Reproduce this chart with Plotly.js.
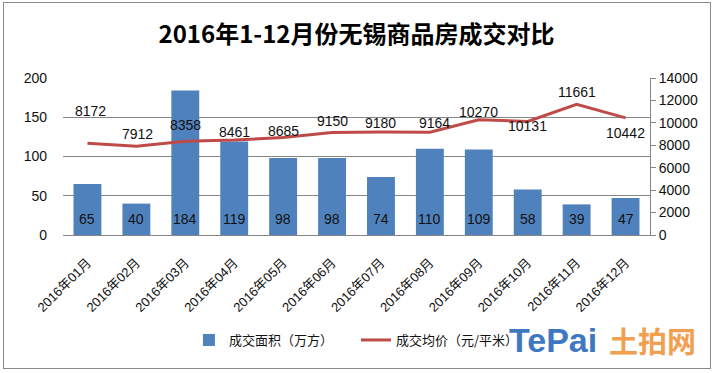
<!DOCTYPE html>
<html>
<head>
<meta charset="utf-8">
<script src="https://cdn.plot.ly/plotly-3.0.1.min.js"></script>
<style>
html,body{margin:0;padding:0;background:#fff;}
#chart{width:713px;height:373px;}
#frame{position:absolute;left:3px;top:2px;width:706px;height:365px;border:1.5px solid #8a8a8a;pointer-events:none;}
</style>
</head>
<body>
<div id="chart"></div>
<div id="frame"></div>
<script>
var categories = ["2016年01月","2016年02月","2016年03月","2016年04月","2016年05月","2016年06月",
                  "2016年07月","2016年08月","2016年09月","2016年10月","2016年11月","2016年12月"];
var areaValues = [65, 40, 184, 119, 98, 98, 74, 110, 109, 58, 39, 47];
var priceValues = [8172, 7912, 8358, 8461, 8685, 9150, 9180, 9164, 10270, 10131, 11661, 10442];
var leftTicks = [0, 50, 100, 150, 200];
var rightTicks = [0, 2000, 4000, 6000, 8000, 10000, 12000, 14000];
var rightTickText = ["0", "2000", "4000", "6000", "8000", "10000", "12000", "14000"];
// label placement offsets (pixels) for the price labels, as in the picture
var priceLabelShift = [32, 12, 16, 8, 7, 11, 9, 9, 8, -5, 12, -15];
var priceLabelXShift = [3, 1, 0, 0, 0, 0, 0, 5, 0, 0, 0, 0];

var font = "Liberation Sans, Noto Sans CJK SC, sans-serif";
var cjk = "Noto Sans CJK SC, sans-serif";

var traces = [
  {type:"bar", x:categories, y:areaValues, name:"成交面积（万方）",
   marker:{color:"#4F81BD"}, yaxis:"y", hoverinfo:"none"},
  {type:"scatter", mode:"lines", x:categories, y:priceValues, name:"成交均价（元/平米）",
   line:{color:"#BE4B48", width:3}, yaxis:"y2", hoverinfo:"none"}
];

var annotations = [];
categories.forEach(function(c, i){
  annotations.push({x:c, y:0, xref:"x", yref:"y", text:String(areaValues[i]), showarrow:false,
    yshift:16, font:{family:font, size:14, color:"#111"}});
  annotations.push({x:c, y:priceValues[i], xref:"x", yref:"y2", text:String(priceValues[i]), showarrow:false,
    yshift:priceLabelShift[i], xshift:priceLabelXShift[i], font:{family:font, size:14, color:"#111"}});
});
annotations.push({x:0.835, y:-0.669, xref:"paper", yref:"paper", xanchor:"center", yanchor:"middle",
  text:"<b>TePai</b>", showarrow:false,
  font:{family:"Liberation Sans, sans-serif", size:34, color:"#3F78C0"}});
annotations.push({x:1.005, y:-0.669, xref:"paper", yref:"paper", xanchor:"center", yanchor:"middle",
  text:"<b>土拍网</b>", showarrow:false,
  font:{family:cjk, size:29, color:"#F0A050"}});

var layout = {
  width:713, height:373,
  margin:{l:63, r:63, t:78, b:138},
  paper_bgcolor:"#fff", plot_bgcolor:"#fff",
  title:{text:"<b>2016年1-12月份无锡商品房成交对比</b>", font:{family:cjk, size:24, color:"#000"},
         x:0.5, xanchor:"center", y:1-35/373, yanchor:"middle"},
  bargap:0.43,
  showlegend:true,
  legend:{orientation:"h", xref:"container", yref:"container", x:0.265, xanchor:"left",
          y:1-340/373, yanchor:"middle", font:{family:cjk, size:13, color:"#111"}, bgcolor:"rgba(0,0,0,0)",
          entrywidth:122},
  xaxis:{type:"category", tickangle:-45, tickfont:{family:font, size:13, color:"#111"},
         showline:true, linecolor:"#868686", linewidth:1, ticks:"", showgrid:false, ticklabelstandoff:14},
  yaxis:{range:[0,200], tickvals:leftTicks, tickfont:{family:font, size:14, color:"#111"},
         showgrid:true, gridcolor:"#868686", gridwidth:1, zeroline:true, zerolinecolor:"#868686",
         showline:false, ticks:"", ticklabelstandoff:15},
  yaxis2:{range:[0,14000], tickvals:rightTicks, ticktext:rightTickText, overlaying:"y", side:"right",
          tickfont:{family:font, size:14, color:"#111"}, showgrid:false, zeroline:false,
          showline:true, linecolor:"#868686", ticks:"outside", ticklen:5, tickcolor:"#868686"},
  annotations:annotations
};

Plotly.newPlot("chart", traces, layout, {staticPlot:true, displayModeBar:false});
</script>
</body>
</html>
